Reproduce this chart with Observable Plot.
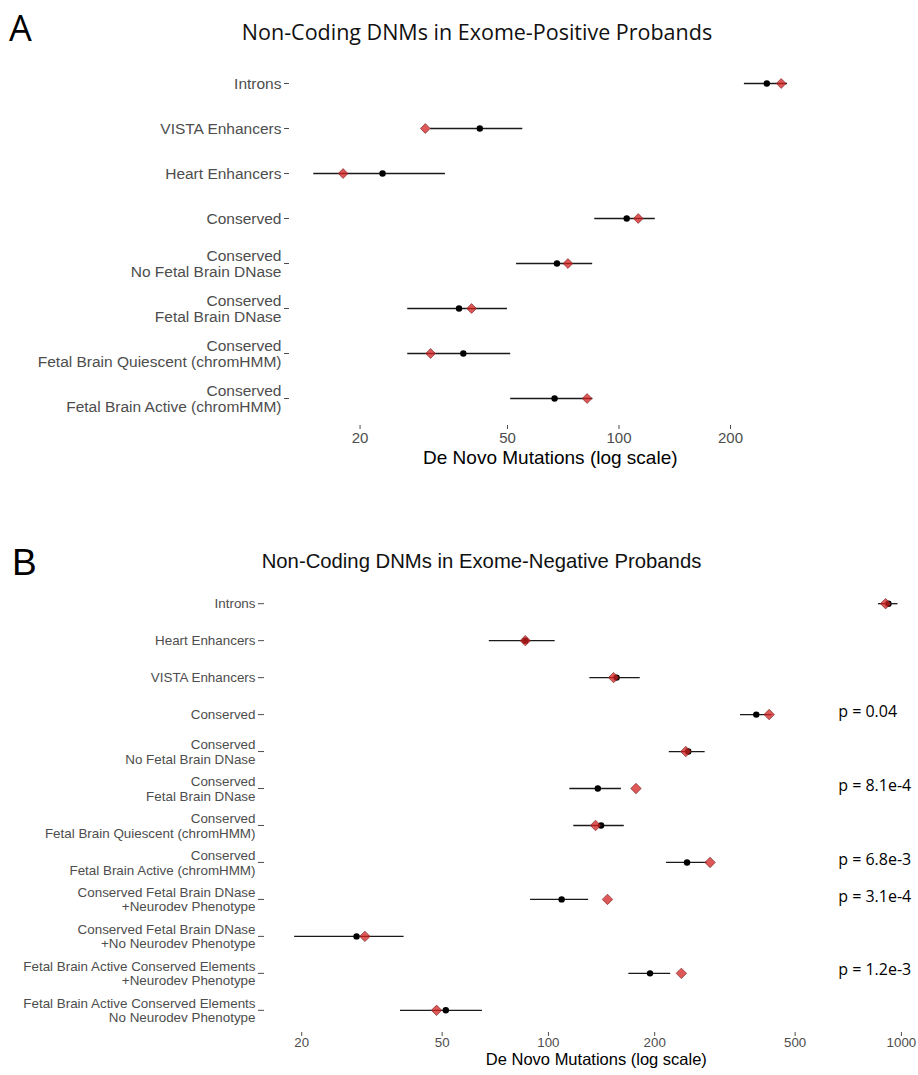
<!DOCTYPE html>
<html><head><meta charset="utf-8">
<script src="https://cdn.jsdelivr.net/npm/d3@7"></script>
<script src="https://cdn.jsdelivr.net/npm/@observablehq/plot@0.6"></script>
<style>
body{margin:0;background:#fff;overflow:hidden}
#root{position:relative;width:918px;height:1075px;overflow:hidden}
.abs{position:absolute;white-space:nowrap;line-height:1}
#plotA{position:absolute;left:0;top:50px;line-height:0}
#plotB{position:absolute;left:0;top:575px;line-height:0}
</style></head><body><div id="root">
<div class="abs" style="left:9px;top:10px;font-family:'Open Sans';font-size:36px;color:#000">A</div>
<div class="abs" style="left:477px;top:21px;transform:translateX(-50%);font-family:'Open Sans';font-size:21.5px;color:#111">Non-Coding DNMs in Exome-Positive Probands</div>
<div class="abs" style="left:12px;top:544px;font-family:'Liberation Sans',Arial,sans-serif;font-size:37px;color:#000">B</div>
<div class="abs" style="left:481.5px;top:551px;transform:translateX(-50%);font-family:'Liberation Sans',Arial,sans-serif;font-size:20.3px;color:#111">Non-Coding DNMs in Exome-Negative Probands</div>
<div id="plotA"></div>
<div id="plotB"></div>
</div>
<script>
// ---------- Panel A: Exome-Positive probands ----------
const catsA = [
  "Introns",
  "VISTA Enhancers",
  "Heart Enhancers",
  "Conserved",
  "Conserved\nNo Fetal Brain DNase",
  "Conserved\nFetal Brain DNase",
  "Conserved\nFetal Brain Quiescent (chromHMM)",
  "Conserved\nFetal Brain Active (chromHMM)"
];
const observedA = [274, 30, 18, 112.7, 72.8, 40, 31, 82];
const expectedA = [250.6, 42.1, 23, 104.9, 68, 37, 38, 67];
const lowA      = [218, 31, 15, 86, 52.9, 26.9, 26.9, 51];
const highA     = [285, 55, 34, 125.3, 84.9, 50, 51, 85];
const ticksA = [20, 50, 100, 200];

// ---------- Panel B: Exome-Negative probands ----------
const catsB = [
  "Introns",
  "Heart Enhancers",
  "VISTA Enhancers",
  "Conserved",
  "Conserved\nNo Fetal Brain DNase",
  "Conserved\nFetal Brain DNase",
  "Conserved\nFetal Brain Quiescent (chromHMM)",
  "Conserved\nFetal Brain Active (chromHMM)",
  "Conserved Fetal Brain DNase\n+Neurodev Phenotype",
  "Conserved Fetal Brain DNase\n+No Neurodev Phenotype",
  "Fetal Brain Active Conserved Elements\n+Neurodev Phenotype",
  "Fetal Brain Active Conserved Elements\nNo Neurodev Phenotype"
];
const observedB = [902, 86, 153, 422, 245, 177, 136, 287, 147, 30.2, 238, 48.2];
const expectedB = [919, 86, 156, 388, 249, 138, 141, 247, 109, 28.6, 194, 51.2];
const lowB      = [861, 68, 131, 350, 220, 115, 118, 216, 89, 19.1, 169, 38.1];
const highB     = [978, 104.5, 182, 430, 278, 161, 164, 282, 130, 39, 222, 65];
const ticksB = [20, 50, 100, 200, 500, 1000];

const pCats = [
  "Conserved",
  "Conserved\nFetal Brain DNase",
  "Conserved\nFetal Brain Active (chromHMM)",
  "Conserved Fetal Brain DNase\n+Neurodev Phenotype",
  "Fetal Brain Active Conserved Elements\n+Neurodev Phenotype"
];
const pLabels = ["p = 0.04", "p = 8.1e-4", "p = 6.8e-3", "p = 3.1e-4", "p = 1.2e-3"];

const xTitle = "De Novo Mutations (log scale)";

const build = (cats, obs, exp, lo, hi) =>
  cats.map((c, i) => ({cat: c, observed: obs[i], expected: exp[i], lo: lo[i], hi: hi[i]}));

const dataA = build(catsA, observedA, expectedA, lowA, highA);
const dataB = build(catsB, observedB, expectedB, lowB, highB);
const pData = pCats.map((c, i) => ({cat: c, p: pLabels[i]}));

const diamondStyle = {symbol: "diamond2", fill: "#d42020", fillOpacity: 0.75, stroke: "#7a2828", strokeWidth: 0.8, strokeOpacity: 0.85};

function seriesMarks(data, lineW, dotR, diaR) {
  return [
    Plot.ruleY(data, {y: "cat", x1: "lo", x2: "hi", stroke: "#1a1a1a", strokeWidth: lineW}),
    Plot.dot(data, {y: "cat", x: "expected", r: dotR, fill: "#000", stroke: "none"}),
    Plot.dot(data, {y: "cat", x: "observed", r: diaR, ...diamondStyle})
  ];
}

const plotA = Plot.plot({
  width: 918, height: 430,
  marginLeft: 289, marginRight: 107.4, marginTop: 6, marginBottom: 55,
  style: {fontFamily: "'Liberation Sans', Arial, sans-serif", fontSize: "15px", color: "#4d4d4d", background: "transparent", overflow: "visible"},
  x: {type: "log", domain: [12.9, 330], label: null},
  y: {type: "point", domain: catsA, padding: 0.6, round: false, label: null},
  marks: [
    Plot.axisY({tickSize: 5, tickPadding: 3, fontSize: 15.5, lineHeight: 1.08, label: null}),
    Plot.axisX({ticks: ticksA, tickFormat: d => String(d), tickSize: 4, tickPadding: 3, fontSize: 15, label: null}),
    ...seriesMarks(dataA, 1.3, 3.2, 4.4),
    Plot.text([xTitle], {text: d => d, frameAnchor: "bottom", dy: 38, fontSize: 19, fill: "#000"})
  ]
});
document.getElementById("plotA").append(plotA);

const plotB = Plot.plot({
  width: 918, height: 500,
  marginLeft: 264, marginRight: -9.7, marginTop: 6, marginBottom: 43,
  style: {fontFamily: "'Liberation Sans', Arial, sans-serif", fontSize: "13px", color: "#4d4d4d", background: "transparent", overflow: "visible"},
  x: {type: "log", domain: [15.69, 1191], label: null},
  y: {type: "point", domain: catsB, padding: 0.6, round: false, label: null},
  marks: [
    Plot.axisY({tickSize: 6, tickPadding: 3, fontSize: 13.4, lineHeight: 1.1, label: null}),
    Plot.axisX({ticks: ticksB, tickFormat: d => String(d), tickSize: 4, tickPadding: 1, fontSize: 13.3, label: null}),
    ...seriesMarks(dataB, 1.3, 3.2, 4.7),
    Plot.text(pData, {y: "cat", text: "p", frameAnchor: "right", textAnchor: "start", dx: -90, dy: -3, fontSize: 16, fontFamily: "'Open Sans'", fill: "#000"}),
    Plot.text([xTitle], {text: d => d, frameAnchor: "bottom", dy: 32, fontSize: 16.5, fill: "#000"})
  ]
});
document.getElementById("plotB").append(plotB);
</script>
</body></html>
